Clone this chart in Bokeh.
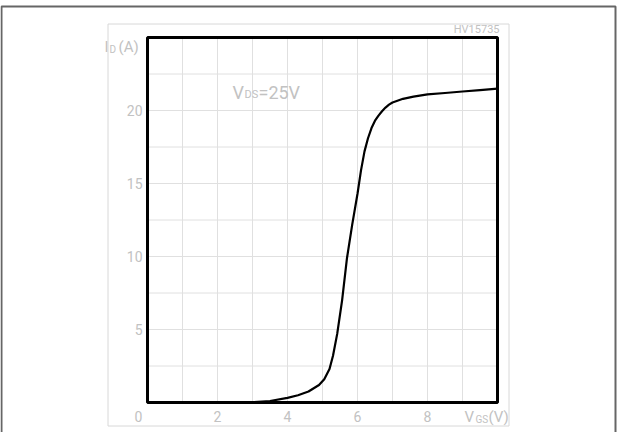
from bokeh.plotting import figure
from bokeh.core.properties import value
from bokeh.embed import file_html
from bokeh.resources import INLINE

# data
vgs = [2.9, 3.5, 4.0, 4.3, 4.6, 4.9, 5.05, 5.2, 5.3, 5.42, 5.56, 5.7, 5.85, 6.0, 6.1,
       6.2, 6.3, 6.4, 6.5, 6.6, 6.7, 6.8, 6.9, 7.0, 7.3, 7.6, 8.0, 8.5, 9.0, 9.5, 10.0]
id_a = [0.0, 0.1, 0.32, 0.5, 0.75, 1.2, 1.6, 2.3, 3.2, 4.7, 7.0, 9.9, 12.2, 14.3, 15.9,
        17.2, 18.1, 18.8, 19.3, 19.65, 19.95, 20.2, 20.4, 20.55, 20.8, 20.95, 21.1, 21.2,
        21.3, 21.4, 21.5]
x_ticks = [2, 4, 6, 8]
x_tick_labels = ["2", "4", "6", "8"]
y_ticks = [5, 10, 15, 20]
y_tick_labels = ["5", "10", "15", "20"]
x_grid = [0, 1, 2, 3, 4, 5, 6, 7, 8, 9, 10]
y_grid = [0, 2.5, 5, 7.5, 10, 12.5, 15, 17.5, 20, 22.5, 25]
x_min, x_max = 0, 10
y_min, y_max = 0, 25

FONT = value("Roboto")
LBL = "#c2c2c2"

# pixel geometry of the plotting box on the canvas
X0, XS = 147.0, 35.0   # px of x=0, px per volt
Y0, YS = 402.0, 14.6   # px of y=0, px per amp
W, H = 617, 432


def px(sx):
    return (sx - X0) / XS


def py(sy):
    return (Y0 - sy) / YS


p = figure(width=W, height=H, output_backend="svg", toolbar_location=None,
           x_range=(px(0), px(W)), y_range=(py(H), py(0)),
           x_axis_location=None, y_axis_location=None,
           min_border=0, outline_line_color=None)
p.xgrid.visible = False
p.ygrid.visible = False
p.background_fill_color = "white"
p.border_fill_color = "white"

# grid
p.segment(x0=x_grid, y0=[y_min] * len(x_grid), x1=x_grid, y1=[y_max] * len(x_grid),
          line_color="#e0e0e0", line_width=1)
p.segment(x0=[x_min] * len(y_grid), y0=y_grid, x1=[x_max] * len(y_grid), y1=y_grid,
          line_color="#e0e0e0", line_width=1)

# curve
p.line(vgs, id_a, line_color="black", line_width=2.2)

# plot box
p.quad(left=[x_min], right=[x_max], bottom=[y_min], top=[y_max],
       fill_color=None, line_color="black", line_width=3)

# tick labels
p.text(x=x_ticks, y=[py(416)] * len(x_ticks), text=x_tick_labels, text_font=FONT,
       text_font_size="14px", text_color=LBL, text_align="center",
       text_baseline="middle")
p.text(x=[px(142)] * len(y_ticks), y=y_ticks, text=y_tick_labels, text_font=FONT,
       text_font_size="14px", text_color=LBL, text_align="right",
       text_baseline="middle")


def lab(text, sx, base, size_px, color=LBL, align="left"):
    # place text so its baseline sits at screen row `base`
    p.text(x=[px(sx)], y=[py(base + 0.24 * size_px)], text=[text], text_font=FONT,
           text_font_size="%dpx" % size_px, text_color=color, text_align=align,
           text_baseline="bottom")


lab("0", 134, 418, 14)
lab("I", 104, 52, 15)
lab("D", 109, 52, 10)
lab("(A)", 118, 52, 15)
lab("V", 464, 422, 15)
lab("GS", 475, 422, 10)
lab("(V)", 488, 422, 15)
lab("V", 232, 98, 18)
lab("DS", 244, 98, 11)
lab("=25V", 258, 98, 18)
lab("HV15735", 499, 33, 11, align="right")

# inner light frame
p.quad(left=[px(107.5)], right=[px(508.5)], top=[py(23.5)], bottom=[py(425.5)],
       fill_color=None, line_color="#d8d8d8", line_width=1)
# outer border (top, left, right)
p.line(x=[px(1), px(1), px(615), px(615)], y=[py(H + 10), py(6), py(6), py(H + 10)],
       line_color="#666666", line_width=2)

open("out.html", "w").write(file_html(p, INLINE))
